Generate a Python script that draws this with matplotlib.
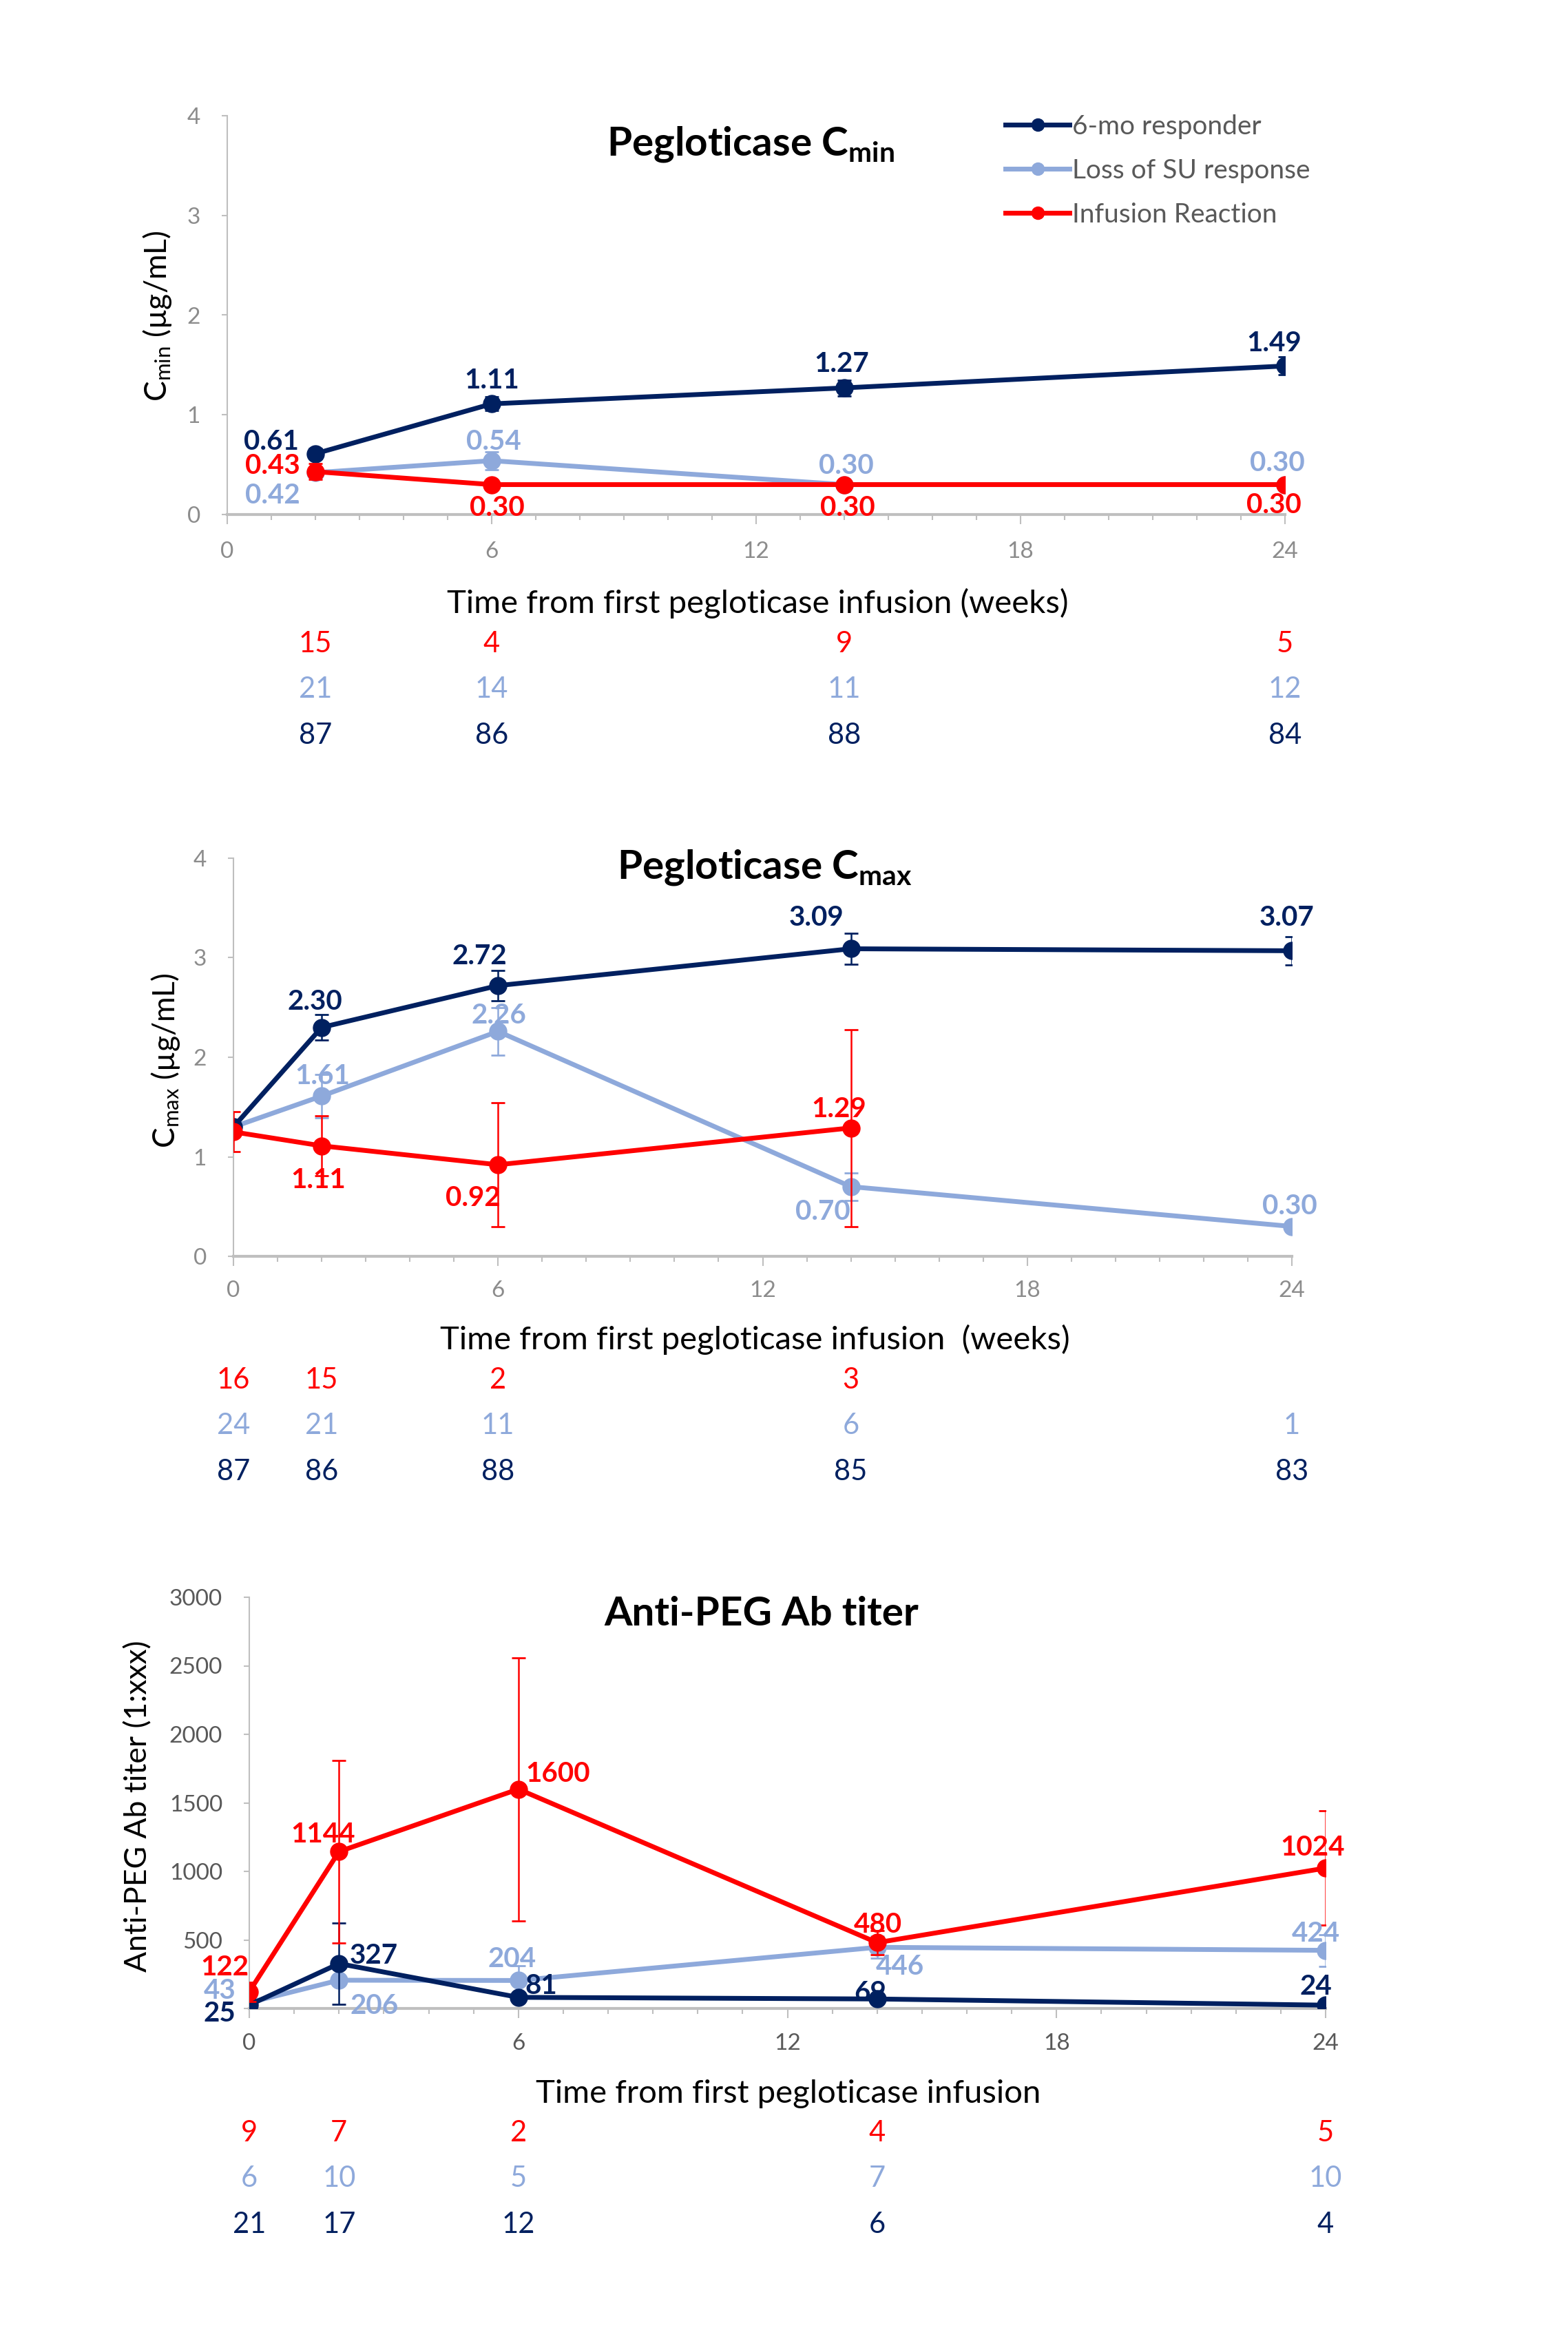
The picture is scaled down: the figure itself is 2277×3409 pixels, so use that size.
import matplotlib
matplotlib.use('Agg')
import matplotlib.pyplot as plt
from matplotlib.ticker import MultipleLocator, FixedLocator, FixedFormatter
import matplotlib.transforms as mtransforms
from matplotlib.lines import Line2D

plt.rcParams['font.family'] = ['Lato', 'DejaVu Sans']
plt.rcParams['mathtext.default'] = 'regular'

NAVY = '#002060'
LIGHT = '#8EA9DB'
RED = '#FF0000'

series_names = ['6-mo responder', 'Loss of SU response', 'Infusion Reaction']

# ---------------- Panel 1: Cmin ----------------
cmin_resp_weeks = [2, 6, 14, 24]
cmin_resp = [0.61, 1.11, 1.27, 1.49]
cmin_resp_err = [0.05, 0.07, 0.08, 0.09]
cmin_loss_weeks = [2, 6, 14, 24]
cmin_loss = [0.42, 0.54, 0.30, 0.30]
cmin_loss_err = [0.04, 0.09, 0.0, 0.0]
cmin_inf_weeks = [2, 6, 14, 24]
cmin_inf = [0.43, 0.30, 0.30, 0.30]
cmin_inf_err = [0.08, 0.0, 0.0, 0.0]
cmin_n_weeks = [2, 6, 14, 24]
cmin_n_inf = [15, 4, 9, 5]
cmin_n_loss = [21, 14, 11, 12]
cmin_n_resp = [87, 86, 88, 84]

# ---------------- Panel 2: Cmax ----------------
cmax_resp_weeks = [0, 2, 6, 14, 24]
cmax_resp = [1.30, 2.30, 2.72, 3.09, 3.07]
cmax_resp_err = [0.0, 0.13, 0.15, 0.155, 0.14]
cmax_loss_weeks = [0, 2, 6, 14, 24]
cmax_loss = [1.30, 1.61, 2.26, 0.70, 0.30]
cmax_loss_err = [0.0, 0.22, 0.24, 0.14, 0.0]
cmax_inf_weeks = [0, 2, 6, 14]
cmax_inf = [1.25, 1.11, 0.92, 1.29]
cmax_inf_err = [0.20, 0.30, 0.62, 0.99]
cmax_n_weeks_inf = [0, 2, 6, 14]
cmax_n_inf = [16, 15, 2, 3]
cmax_n_weeks = [0, 2, 6, 14, 24]
cmax_n_loss = [24, 21, 11, 6, 1]
cmax_n_resp = [87, 86, 88, 85, 83]

# ---------------- Panel 3: Anti-PEG Ab titer ----------------
peg_weeks = [0, 2, 6, 14, 24]
peg_resp = [25, 327, 81, 69, 24]
peg_resp_err = [0, 297, 0, 0, 0]
peg_loss = [43, 206, 204, 446, 424]
peg_loss_err = [0, 0, 110, 80, 115]
peg_inf = [122, 1144, 1600, 480, 1024]
peg_inf_err = [70, 666, 960, 90, 418]
peg_n_inf = [9, 7, 2, 4, 5]
peg_n_loss = [6, 10, 5, 7, 10]
peg_n_resp = [21, 17, 12, 6, 4]

# ---------------- label offsets (pixels) ----------------
off1 = {
    'resp': [(-64, 17), (0, 34), (-4, 35), (-16, 33)],
    'loss': [(-62, -33), (3, 27), (3, 27), (-11, 31)],
    'inf': [(-62, 8), (8, -34), (5, -34), (-16, -30)],
}
off2 = {
    'resp': [None, (-10, 37), (-27, 42), (-50, 45), (-7, 48)],
    'loss': [None, (1, 29), (1, 23), (-41, -37), (-3, 29)],
    'inf': [None, (-5, -50), (-36, -48), (-17, 27)],
}
off3 = {
    'resp': [(-43, -12), (51, 11), (33, 16), (-10, 9), (-14, 27)],
    'loss': [(-43, 17), (51, -37), (-9, 31), (33, -28), (-14, 24)],
    'inf': [(-36, 35), (-23, 25), (57, 22), (1, 26), (-19, 30)],
}

W, H = 2277, 3409
fig = plt.figure(figsize=(W / 100, H / 100), dpi=100)

LBL_FS = 29
N_FS = 30
TICK_FS = 24


def fx(px):
    return px / W


def fy(py):
    return 1 - py / H


def style_axes(ax, ylim, ystep, tickcolor, xpad, ypad, hide_zero=False):
    ax.set_xlim(0, 24)
    ax.set_ylim(*ylim)
    for s in ['top', 'right']:
        ax.spines[s].set_visible(False)
    ax.spines['left'].set_color('#bfbfbf')
    ax.spines['left'].set_linewidth(1.5)
    ax.spines['bottom'].set_color('#bfbfbf')
    ax.spines['bottom'].set_linewidth(3)
    ax.xaxis.set_major_locator(MultipleLocator(6))
    ax.xaxis.set_minor_locator(MultipleLocator(1))
    ax.yaxis.set_major_locator(MultipleLocator(ystep))
    ax.tick_params(axis='x', which='major', length=10, width=1.5, color='#bfbfbf',
                   labelsize=TICK_FS, labelcolor=tickcolor, pad=xpad)
    ax.tick_params(axis='x', which='minor', length=6, width=1.5, color='#bfbfbf')
    ax.tick_params(axis='y', which='major', length=6, width=1.5, color='#bfbfbf',
                   labelsize=TICK_FS, labelcolor=tickcolor, pad=ypad)
    if hide_zero:
        ticks = list(range(int(ylim[0]), int(ylim[1]) + 1, int(ystep)))
        ax.yaxis.set_major_locator(FixedLocator(ticks))
        ax.yaxis.set_major_formatter(FixedFormatter(['' if t == 0 else str(t) for t in ticks]))
    ax.patch.set_visible(False)


def plot_series(ax, x, y, err, color, z, offsets, fmt):
    ax.errorbar(x, y, yerr=err, color=color, lw=5, marker='o', markersize=18,
                ecolor=color, elinewidth=1.8, capsize=7, capthick=2, zorder=z)
    for xi, yi, off in zip(x, y, offsets):
        if off is None:
            continue
        ax.annotate(fmt(yi), (xi, yi), xytext=off, textcoords='offset pixels',
                    ha='center', va='center', fontsize=LBL_FS, fontweight='bold',
                    color=color, zorder=z + 5)


def n_rows(ax, rows, ys):
    trans = mtransforms.blended_transform_factory(ax.transData, fig.transFigure)
    for (weeks, vals, color), yy in zip(rows, ys):
        for w, v in zip(weeks, vals):
            fig.text(w, yy, str(v), transform=trans, ha='center', va='center',
                     fontsize=N_FS, color=color)


f2 = lambda v: f'{v:.2f}'
fi = lambda v: f'{int(v)}'

# ---------- Panel 1 ----------
ax1 = fig.add_axes([fx(330), fy(747), fx(1866) - fx(330), fy(168) - fy(747)])
style_axes(ax1, (0, 4), 1, '#8c8c8c', 18, 22)
plot_series(ax1, cmin_loss_weeks, cmin_loss, cmin_loss_err, LIGHT, 2, off1['loss'], f2)
plot_series(ax1, cmin_resp_weeks, cmin_resp, cmin_resp_err, NAVY, 3, off1['resp'], f2)
plot_series(ax1, cmin_inf_weeks, cmin_inf, cmin_inf_err, RED, 4, off1['inf'], f2)
fig.text(fx(1090), fy(210), r'Pegloticase C$_{min}$', ha='center', va='center',
         fontsize=42, fontweight='bold', color='black')
fig.text(fx(1100), fy(876), 'Time from first pegloticase infusion (weeks)',
         ha='center', va='center', fontsize=34, color='black')
fig.text(fx(229), fy(459), r'C$_{min}$ (µg/mL)', rotation=90, ha='center', va='center',
         fontsize=32, color='black')
n_rows(ax1, [(cmin_n_weeks, cmin_n_inf, RED), (cmin_n_weeks, cmin_n_loss, LIGHT),
             (cmin_n_weeks, cmin_n_resp, NAVY)],
       [fy(935), fy(1001), fy(1068)])

handles = [Line2D([0], [0], color=c, lw=5, marker='o', markersize=13)
           for c in (NAVY, LIGHT, RED)]
leg = fig.legend(handles, series_names, loc='upper left',
                 bbox_to_anchor=(fx(1460), fy(166)), frameon=False, fontsize=28,
                 handlelength=2.4, handletextpad=0.1, labelspacing=0.72, borderpad=0,
                 borderaxespad=0)
for t in leg.get_texts():
    t.set_color('#595959')

# ---------- Panel 2 ----------
ax2 = fig.add_axes([fx(339), fy(1824), fx(1876) - fx(339), fy(1246) - fy(1824)])
style_axes(ax2, (0, 4), 1, '#8c8c8c', 15, 22)
plot_series(ax2, cmax_loss_weeks, cmax_loss, cmax_loss_err, LIGHT, 2, off2['loss'], f2)
plot_series(ax2, cmax_resp_weeks, cmax_resp, cmax_resp_err, NAVY, 3, off2['resp'], f2)
plot_series(ax2, cmax_inf_weeks, cmax_inf, cmax_inf_err, RED, 4, off2['inf'], f2)
fig.text(fx(1110), fy(1260), r'Pegloticase C$_{max}$', ha='center', va='center',
         fontsize=42, fontweight='bold', color='black')
fig.text(fx(1096), fy(1945), 'Time from first pegloticase infusion  (weeks)',
         ha='center', va='center', fontsize=34, color='black')
fig.text(fx(240), fy(1540), r'C$_{max}$ (µg/mL)', rotation=90, ha='center', va='center',
         fontsize=32, color='black')
n_rows(ax2, [(cmax_n_weeks_inf, cmax_n_inf, RED), (cmax_n_weeks, cmax_n_loss, LIGHT),
             (cmax_n_weeks, cmax_n_resp, NAVY)],
       [fy(2004), fy(2070), fy(2137)])

# ---------- Panel 3 ----------
ax3 = fig.add_axes([fx(362), fy(2916), fx(1925) - fx(362), fy(2319) - fy(2916)])
style_axes(ax3, (0, 3000), 500, '#595959', 16, 22, hide_zero=True)
plot_series(ax3, peg_weeks, peg_loss, peg_loss_err, LIGHT, 2, off3['loss'], fi)
plot_series(ax3, peg_weeks, peg_resp, peg_resp_err, NAVY, 3, off3['resp'], fi)
plot_series(ax3, peg_weeks, peg_inf, peg_inf_err, RED, 4, off3['inf'], fi)
fig.text(fx(1106), fy(2343), 'Anti-PEG Ab titer', ha='center', va='center',
         fontsize=42, fontweight='bold', color='black')
fig.text(fx(1145), fy(3040), 'Time from first pegloticase infusion',
         ha='center', va='center', fontsize=34, color='black')
fig.text(fx(201), fy(2622), 'Anti-PEG Ab titer (1:xxx)', rotation=90, ha='center',
         va='center', fontsize=32, color='black')
n_rows(ax3, [(peg_weeks, peg_n_inf, RED), (peg_weeks, peg_n_loss, LIGHT),
             (peg_weeks, peg_n_resp, NAVY)],
       [fy(3097), fy(3163), fy(3230)])

fig.savefig('out.png', dpi=100, facecolor='white')
